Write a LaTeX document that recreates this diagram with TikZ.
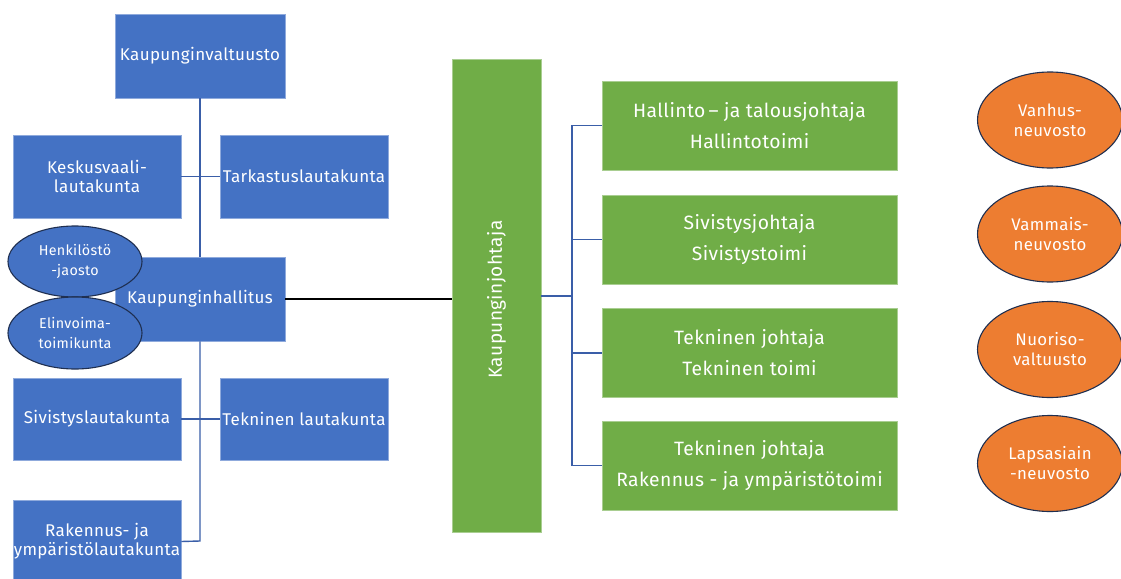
\documentclass[tikz,border=0pt]{standalone}
\usepackage{fontspec}
\setmainfont{Fira Sans}[LetterSpace=2]
\usetikzlibrary{shapes.geometric}
\definecolor{bluefill}{HTML}{4472C4}
\definecolor{greenfill}{HTML}{70AD47}
\definecolor{orangefill}{HTML}{ED7D31}
\definecolor{navy}{HTML}{1F2F50}
\definecolor{conn}{HTML}{3A5EA8}
\tikzset{
  bbox/.style={rectangle, fill=bluefill, draw=bluefill!60!white, line width=0.6pt, inner sep=0pt,
    align=center, text=white, font=\fontsize{17}{19}\selectfont},
  gbox/.style={rectangle, fill=greenfill, draw=greenfill!60!white, line width=0.6pt, inner sep=0pt,
    align=center, text=white, font=\fontsize{19.3}{31}\selectfont, minimum width=295pt, minimum height=89pt},
  bell/.style={ellipse, fill=bluefill, draw=navy, line width=1.1pt, inner sep=0pt,
    align=center, text=white, font=\fontsize{14.3}{20}\selectfont, minimum width=134pt, minimum height=71pt},
  oell/.style={ellipse, fill=orangefill, draw=navy, line width=1.1pt, inner sep=0pt,
    align=center, text=white, font=\fontsize{16.8}{20}\selectfont, minimum width=145pt, minimum height=96pt},
  bline/.style={draw=conn, line width=1.4pt},
  kline/.style={draw=black, line width=1.4pt}
}
\begin{document}
\begin{tikzpicture}[x=1pt,y=-1pt]
\useasboundingbox (0,0) rectangle (1121,578);
\clip (0,0) rectangle (1121,578);
\fill[white] (0,0) rectangle (1121,578);

% left blue boxes
\node[bbox, minimum width=170pt, minimum height=84pt] (kv) at (200,56) {Kaupunginvaltuusto};
\node[bbox, minimum width=168pt, minimum height=83pt] (kvl) at (97,176.5) {Keskusvaali-\\lautakunta};
\node[bbox, minimum width=168pt, minimum height=83pt] (tark) at (304,176.5) {Tarkastuslautakunta};
\node[bbox, minimum width=170pt, minimum height=84pt] (kh) at (200,299) {\raisebox{2pt}{Kaupunginhallitus}};
\node[bbox, minimum width=168pt, minimum height=82pt] (siv) at (97,419) {Sivistyslautakunta};
\node[bbox, minimum width=168pt, minimum height=82pt] (tek) at (304,419) {Tekninen lautakunta};
\node[bbox, minimum width=168pt, minimum height=83pt] (rak) at (97,541.5) {Rakennus- ja\\ympäristölautakunta};

% ellipses on the left
\node[bell] (hen) at (75,261.5) {Henkilöstö\\-jaosto};
\node[bell, minimum height=72pt] (elin) at (75,333) {Elinvoima-\\toimikunta};

% connectors on the left
\coordinate (rakc) at (200,541);
\draw[bline] (kv.south) -- (kh.north);
\draw[bline] (kvl.east) -- (tark.west);
\draw[bline] (kh.south) -- (rakc) -- (rak.east);
\draw[bline] (siv.east) -- (tek.west);

% central green box
\node[gbox, minimum width=89pt, minimum height=473pt,
  label={[rotate=90, text=white, font=\fontsize{19}{23}\selectfont, yshift=0pt, xshift=-4pt]center:Kaupunginjohtaja}] (kj) at (496.5,295.5) {};

\draw[kline] (kh.east) -- (kh.east -| kj.west);

% right green boxes
\node[gbox] (g1) at (749.5,125.5) {Hallinto\,– ja talousjohtaja\\Hallintotoimi};
\node[gbox] (g2) at (749.5,239.5) {Sivistysjohtaja\\Sivistystoimi};
\node[gbox] (g3) at (749.5,353) {Tekninen johtaja\\Tekninen toimi};
\node[gbox] (g4) at (749.5,465.5) {Tekninen johtaja\\Rakennus - ja ympäristötoimi};

% bracket
\coordinate (bx) at (572,296);
\draw[bline, line width=2pt] (kj.east |- bx) -- (bx);
\draw[bline] (g1.west) -| (bx) |- (g4.west);
\draw[bline] (g2.west) -| (bx);
\draw[bline] (g3.west) -| (bx);

% orange ellipses
\node[oell] (o1) at (1050,120) {Vanhus-\\neuvosto};
\node[oell] (o2) at (1050,234) {Vammais-\\neuvosto};
\node[oell] (o3) at (1050,349.5) {Nuoriso-\\valtuusto};
\node[oell] (o4) at (1050,463.5) {Lapsasiain\\-neuvosto};
\end{tikzpicture}
\end{document}
